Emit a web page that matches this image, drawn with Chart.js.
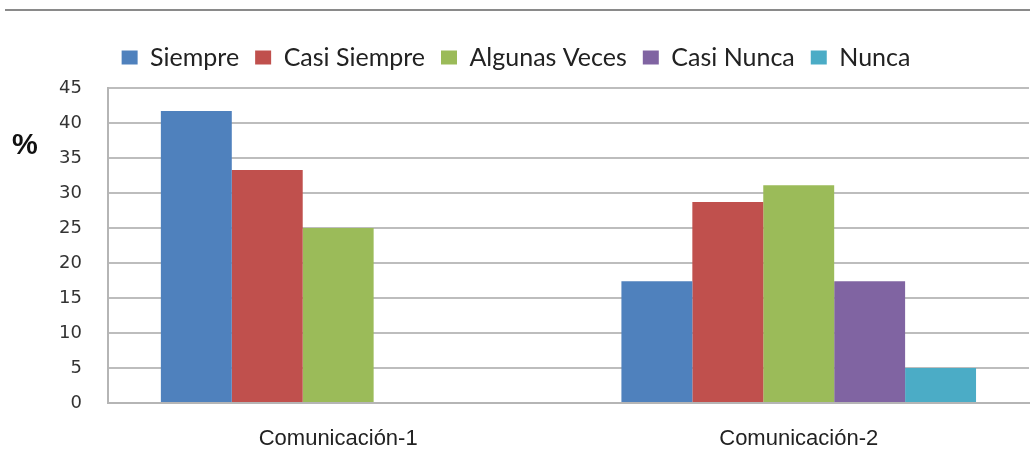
<!DOCTYPE html>
<html>
<head>
<meta charset="utf-8">
<script src="https://cdn.jsdelivr.net/npm/chart.js@4"></script>
<style>
  body { margin: 0; background: #fff; }
  #wrap { position: relative; width: 1030px; height: 468px; }
</style>
</head>
<body>
<div id="wrap"><canvas id="chart"></canvas></div>
<script>
// data
const categories = ['Comunicación-1', 'Comunicación-2'];
const seriesNames = ['Siempre', 'Casi Siempre', 'Algunas Veces', 'Casi Nunca', 'Nunca'];
const siempre = [41.7, 17.4];
const casiSiempre = [33.3, 28.7];
const algunasVeces = [25.0, 31.1];
const casiNunca = [0, 17.4];
const nunca = [0, 5.0];
const yTicks = [0, 5, 10, 15, 20, 25, 30, 35, 40, 45];

const colors = ['#4F81BD', '#C0504D', '#9BBB59', '#8064A2', '#4BACC6'];
const values = [siempre, casiSiempre, algunasVeces, casiNunca, nunca];

// top rule, "%" label, and a bit of legend nudging
const extras = {
    id: 'extras',
    beforeInit(chart) {
        const fit = chart.legend.fit;
        chart.legend.fit = function () {
            fit.call(this);
            this.height += 8;
        };
    },
    afterLayout(chart) {
        // legend in the original sits a little left of centre
        chart.legend.left -= 15;
        chart.legend.right -= 15;
    },
    beforeDraw(chart) {
        const ctx = chart.ctx;
        ctx.save();
        ctx.strokeStyle = '#8a8a8a';
        ctx.lineWidth = 2;
        ctx.beginPath();
        ctx.moveTo(5, 10);
        ctx.lineTo(1030, 10);
        ctx.stroke();
        ctx.restore();
    },
    afterDraw(chart) {
        const ctx = chart.ctx;
        const y = chart.scales.y.getPixelForValue(36.7);
        ctx.save();
        ctx.fillStyle = '#111';
        ctx.font = 'bold 29px "Liberation Sans", Arial, sans-serif';
        ctx.textAlign = 'left';
        ctx.textBaseline = 'middle';
        ctx.fillText('%', 12, y);
        ctx.restore();
    }
};

new Chart(document.getElementById('chart').getContext('2d'), {
    type: 'bar',
    data: {
        labels: categories,
        datasets: seriesNames.map((name, i) => ({
            label: name,
            data: values[i],
            backgroundColor: colors[i],
            borderWidth: 0,
            categoryPercentage: 0.77,
            barPercentage: 1.0
        }))
    },
    options: {
        responsive: true,
        maintainAspectRatio: false,
        animation: false,
        layout: { padding: { left: 33, right: 1, top: 29, bottom: 0 } },
        plugins: {
            legend: {
                display: true,
                position: 'top',
                labels: {
                    boxWidth: 16,
                    boxHeight: 14,
                    padding: 16,
                    color: '#222',
                    font: { family: 'Lato, "Open Sans", sans-serif', size: 25 }
                }
            },
            tooltip: { enabled: false }
        },
        scales: {
            x: {
                grid: { display: false, drawTicks: false },
                border: { color: '#b5b5b5', width: 2 },
                afterFit(scale) { scale.height = 65; },
                ticks: {
                    color: '#222',
                    padding: 23,
                    font: { family: '"Liberation Sans", Arial, sans-serif', size: 22 }
                }
            },
            y: {
                min: 0,
                max: 45,
                afterBuildTicks(axis) { axis.ticks = yTicks.map(v => ({ value: v })); },
                grid: { color: '#bdbdbd', lineWidth: 2, drawTicks: false },
                border: { color: '#b5b5b5', width: 2 },
                ticks: {
                    color: '#333',
                    padding: 26,
                    font: { family: '"DejaVu Sans", Verdana, sans-serif', size: 18 }
                }
            }
        }
    },
    plugins: [extras]
});
</script>
</body>
</html>
